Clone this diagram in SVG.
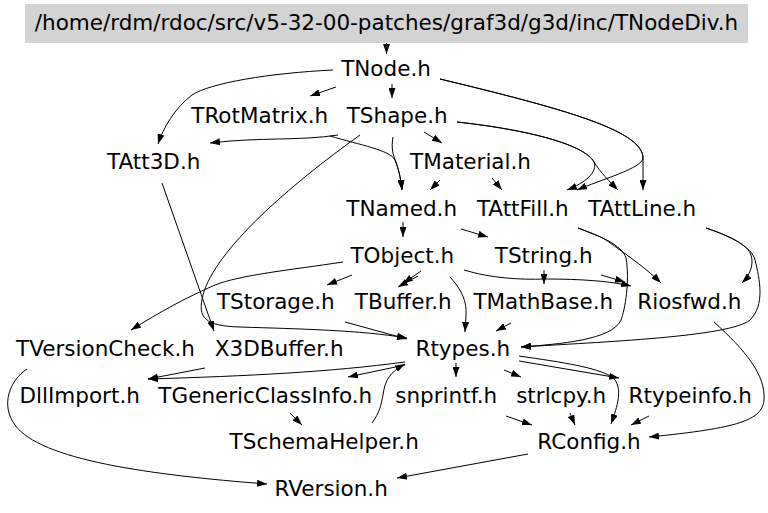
<svg xmlns="http://www.w3.org/2000/svg" width="768" height="513" viewBox="0 0 768 513">
<defs>
<marker id="a" markerWidth="10" markerHeight="7" refX="10" refY="3.5" orient="auto" markerUnits="userSpaceOnUse"><path d="M0,0 L10,3.5 L0,7 z" fill="#000"/></marker>
<style>
text{font-family:"DejaVu Sans","Liberation Sans",sans-serif;font-size:21.5px;fill:#000;text-anchor:middle}
.e path{fill:none;stroke:#000;stroke-width:1;marker-end:url(#a)}
</style>
</defs>
<rect width="768" height="513" fill="#fff"/>
<g class="e" id="edges">
<path d="M386.5,43 L386.5,54"/>
<path d="M336,87 L310,96"/>
<path d="M392,84 L392,98"/>
<path d="M333,70 C270,73 210,83 192,95 C175,108 163,128 158,144"/>
<path d="M440,79 C560,108 643,130 643,158 L643,190"/>
<path d="M440,79 C560,108 643,130 643,158 C643,168 600,180 577,190"/>
<path d="M457,122 C530,130 585,145 594,162 C598,172 585,183 567,190"/>
<path d="M457,122 C530,130 585,145 594,162 C600,172 610,182 618,190"/>
<path d="M424,132 L442,143"/>
<path d="M338,135 C300,141 260,137 210,143"/>
<path d="M330,136 C360,145 390,150 395,160 C399,170 401,180 402,190"/>
<path d="M393,137 C391,148 393,155 396,162 C399,170 401,180 402,190"/>
<path d="M360,135 C290,185 215,250 203,295 C197,318 205,326 240,327 C300,329 360,330 407,338"/>
<path d="M162,183 L214,331"/>
<path d="M345,322 L407,339"/>
<path d="M352,275 L327,285"/>
<path d="M343,262 C290,270 240,275 215,285 C185,298 160,312 131,330"/>
<path d="M421,271 L403,283.5"/>
<path d="M418,276 L398,287"/>
<path d="M450,277 C462,290 467,302 466,315 L465,332"/>
<path d="M464,270 C490,278 520,280 545,279 C580,279 610,281 631,286"/>
<path d="M601,275 L625,282"/>
<path d="M544,270 L544,284"/>
<path d="M403,222 L403,237"/>
<path d="M461,229 L488,237"/>
<path d="M440,180 L430,190"/>
<path d="M492,178 L502,190"/>
<path d="M578,228 C590,233 600,236 606,240 C630,257 648,270 661,283"/>
<path d="M578,228 C600,236 622,245 626,258 C630,280 625,310 621,320 C612,340 560,344 521,347"/>
<path d="M706,228 C730,236 748,245 751,255 C754,265 750,275 742,283"/>
<path d="M706,228 C730,236 752,247 755,260 C760,280 765,305 750,320 C730,337 600,342 521,347"/>
<path d="M511,323 L496,331"/>
<path d="M714,322 C745,350 766,375 764,400 C762,420 740,428 649,437"/>
<path d="M205,368 L148,379"/>
<path d="M405,362 C330,372 250,376 148,379"/>
<path d="M405,365 L348,377"/>
<path d="M372,423 C380,412 381,405 383,395 C385,380 390,372 405,364"/>
<path d="M290,413 L302,425"/>
<path d="M27,369 C10,380 0,405 15,425 C40,460 150,475 267,484"/>
<path d="M528,454 L397,478"/>
<path d="M456,363 L456,377"/>
<path d="M504,370 L521,377"/>
<path d="M519,361 L619,378"/>
<path d="M519,356 C560,362 605,368 615,380 C622,390 618,405 611,424"/>
<path d="M506,416 L532,425"/>
<path d="M570,413 L575,425"/>
<path d="M649,416 L631,425"/>
</g>
<g id="n-TNodeDiv"><rect x="25" y="4" width="723" height="39" fill="#d3d3d3"/><text x="386.5" y="29.5">/home/rdm/rdoc/src/v5-32-00-patches/graf3d/g3d/inc/TNodeDiv.h</text></g>
<g id="n-TNode"><text x="386" y="76">TNode.h</text></g>
<g id="n-TRotMatrix"><text x="259.7" y="122.7">TRotMatrix.h</text></g>
<g id="n-TShape"><text x="397.2" y="122.7">TShape.h</text></g>
<g id="n-TAtt3D"><text x="153.7" y="169.3">TAtt3D.h</text></g>
<g id="n-TMaterial"><text x="470.5" y="169.3">TMaterial.h</text></g>
<g id="n-TNamed"><text x="401.7" y="216">TNamed.h</text></g>
<g id="n-TAttFill"><text x="522.8" y="216">TAttFill.h</text></g>
<g id="n-TAttLine"><text x="642.3" y="216">TAttLine.h</text></g>
<g id="n-TObject"><text x="402.3" y="262.7">TObject.h</text></g>
<g id="n-TString"><text x="543.7" y="262.7">TString.h</text></g>
<g id="n-TStorage"><text x="275.8" y="309.3">TStorage.h</text></g>
<g id="n-TBuffer"><text x="403.3" y="309.3">TBuffer.h</text></g>
<g id="n-TMathBase"><text x="543.3" y="309.3">TMathBase.h</text></g>
<g id="n-Riosfwd"><text x="689.3" y="309.3">Riosfwd.h</text></g>
<g id="n-TVersionCheck"><text x="105.5" y="356">TVersionCheck.h</text></g>
<g id="n-X3DBuffer"><text x="279.2" y="356">X3DBuffer.h</text></g>
<g id="n-Rtypes"><text x="462.8" y="356">Rtypes.h</text></g>
<g id="n-DllImport"><text x="79.7" y="402.7">DllImport.h</text></g>
<g id="n-TGenericClassInfo"><text x="265.3" y="402.7">TGenericClassInfo.h</text></g>
<g id="n-snprintf"><text x="446.2" y="402.7">snprintf.h</text></g>
<g id="n-strlcpy"><text x="561.2" y="402.7">strlcpy.h</text></g>
<g id="n-Rtypeinfo"><text x="690.3" y="402.7">Rtypeinfo.h</text></g>
<g id="n-TSchemaHelper"><text x="324.2" y="449.3">TSchemaHelper.h</text></g>
<g id="n-RConfig"><text x="589" y="449.3">RConfig.h</text></g>
<g id="n-RVersion"><text x="331.2" y="496">RVersion.h</text></g>
</svg>
